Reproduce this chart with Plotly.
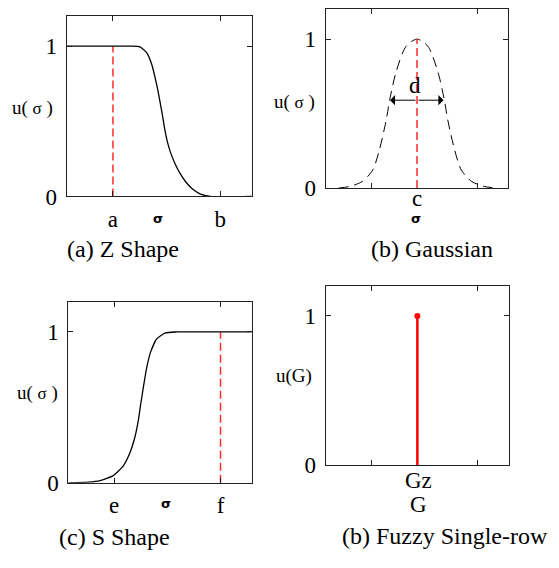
import plotly.graph_objects as go

W, H = 559, 568
OFF = 8  # page body margin in the browser

# ---------------- data ----------------
# (a) Z shape
z_x = [0.0, 0.25, 0.342, 0.396, 0.432, 0.459, 0.483, 0.501, 0.517, 0.531, 0.545, 0.562, 0.585, 0.612, 0.645, 0.68, 0.72, 0.775, 1.0]
z_y = [1.0, 1.0, 1.0, 0.996, 0.957, 0.881, 0.762, 0.653, 0.544, 0.44, 0.36, 0.29, 0.22, 0.155, 0.095, 0.05, 0.018, 0.0, 0.0]
z_ticks = [0.25, 0.83]
z_ticklabels = ["a", "b"]
z_marker_x = 0.25

# (b) Gaussian
g_x = [0.07, 0.13, 0.20, 0.257, 0.293, 0.33, 0.352, 0.385, 0.44, 0.5,
       0.56, 0.615, 0.648, 0.67, 0.707, 0.743, 0.80, 0.87, 0.93]
g_y = [0.0, 0.011, 0.044, 0.121, 0.252, 0.449, 0.602, 0.777, 0.951, 1.0,
       0.951, 0.777, 0.602, 0.449, 0.252, 0.121, 0.044, 0.011, 0.0]
g_ticks = [0.25, 0.83]
g_center = 0.5
g_center_label = "c"
g_width_y = 0.59
g_width_left = 0.352
g_width_right = 0.645

# (c) S shape
s_x = [0.0, 0.109, 0.173, 0.245, 0.300, 0.336, 0.364, 0.382, 0.395, 0.409, 0.427, 0.449, 0.482, 0.527, 0.591, 1.0]
s_y = [0.0, 0.005, 0.015, 0.048, 0.113, 0.199, 0.307, 0.415, 0.523, 0.631, 0.760, 0.868, 0.954, 0.993, 1.0, 1.0]
s_ticks = [0.25, 0.83]
s_ticklabels = ["e", "f"]
s_marker_x = 0.83

# (d) fuzzy singleton
f_x = [0.5, 0.5]
f_y = [0.0, 1.0]
f_ticks = [0.25, 0.83]
f_center_label = "Gz"

y_ticks = [0, 1]
y_ticklabels = ["0", "1"]

captions = ["(a) Z Shape", "(b) Gaussian", "(c) S Shape", "(b) Fuzzy Single-row"]

SERIF = "Times New Roman, Liberation Serif, DejaVu Serif, serif"
FW, FH = W - OFF, H - OFF

def px_x(p):
    return (p - OFF) / FW

def px_y(p):
    return 1 - (p - OFF) / FH

# panel boxes in page pixels: (left, right, top, bottom)
boxes = [
    (66.7, 251.7, 15.3, 200.3),
    (325.7, 508.3, 8.3, 191.7),
    (68.3, 251.7, 308.3, 494.0),
    (325.7, 509.0, 292.3, 475.7),
]

fig = go.Figure()

def axis_common():
    return dict(range=[0, 1], showgrid=False, zeroline=False, showline=True,
                linecolor="#222", linewidth=1, mirror="all", ticks="inside",
                ticklen=5, tickcolor="#222", tickwidth=1,
                tickfont=dict(family=SERIF, size=23, color="black"))

layout = dict(width=FW, height=FH, margin=dict(l=0, r=0, t=0, b=0),
              paper_bgcolor="white", plot_bgcolor="white", showlegend=False)

xtick_sets = [(z_ticks, z_ticklabels), (g_ticks, ["", ""]), (s_ticks, s_ticklabels), (f_ticks, ["", ""])]
for i, (l, r, t, b) in enumerate(boxes):
    n = "" if i == 0 else str(i + 1)
    xa = axis_common()
    xa.update(domain=[px_x(l), px_x(r)], anchor="y" + n,
              tickvals=xtick_sets[i][0], ticktext=xtick_sets[i][1], ticklabelstandoff=2)
    ya = axis_common()
    ya.update(domain=[px_y(b), px_y(t)], anchor="x" + n, range=[0, 1.2],
              tickvals=y_ticks, ticktext=y_ticklabels, ticklabelstandoff=4)
    layout["xaxis" + n] = xa
    layout["yaxis" + n] = ya

fig.update_layout(**layout)

RED_DASH = dict(color="#ff2a2a", width=1.5, dash="8px,4px")
# (a)
fig.add_trace(go.Scatter(x=[z_marker_x, z_marker_x], y=[0, 1], mode="lines",
                         line=RED_DASH, xaxis="x", yaxis="y"))
fig.add_trace(go.Scatter(x=z_x, y=z_y, mode="lines",
                         line=dict(color="black", width=1.3, shape="spline", smoothing=0.5), xaxis="x", yaxis="y"))
# (b)
fig.add_trace(go.Scatter(x=g_x, y=g_y, mode="lines",
                         line=dict(color="black", width=1, dash="10px,6px", shape="spline", smoothing=0.8),
                         xaxis="x2", yaxis="y2"))
fig.add_trace(go.Scatter(x=[g_center, g_center], y=[0, 1], mode="lines",
                         line=RED_DASH, xaxis="x2", yaxis="y2"))
# (c)
fig.add_trace(go.Scatter(x=[s_marker_x, s_marker_x], y=[0, 1], mode="lines",
                         line=RED_DASH, xaxis="x3", yaxis="y3"))
fig.add_trace(go.Scatter(x=s_x, y=s_y, mode="lines",
                         line=dict(color="black", width=1.3, shape="spline", smoothing=0.5), xaxis="x3", yaxis="y3"))
# (d)
fig.add_trace(go.Scatter(x=f_x, y=f_y, mode="lines",
                         line=dict(color="#ff0000", width=2.5), xaxis="x4", yaxis="y4"))
fig.add_trace(go.Scatter(x=[f_x[1]], y=[f_y[1]], mode="markers",
                         marker=dict(color="#ff0000", size=6), xaxis="x4", yaxis="y4"))

ann = []

def text(x, y, s, size=22, family=SERIF, bold=False, xanchor="center"):
    if bold:
        s = "<b>" + s + "</b>"
    ann.append(dict(x=px_x(x), y=px_y(y), xref="paper", yref="paper", text=s, showarrow=False,
                    xanchor=xanchor, yanchor="middle", font=dict(family=family, size=size, color="black")))

SIG = "u(&nbsp;<span style='font-size:17px'>σ</span>&nbsp;)"
# y-axis labels
text(32, 110, SIG, size=19)
text(294, 103, SIG, size=19)
text(37, 402, SIG, size=19)
text(294, 384, "u(G)", size=19)

# x-axis titles
text(158, 223, "σ", size=13, family="DejaVu Sans", bold=True)
text(416, 223, "σ", size=13, family="DejaVu Sans", bold=True)
text(166, 515, "σ", size=13, family="DejaVu Sans", bold=True)
text(418, 516, "G", size=23)

# centre tick labels
text(416.5, 202, g_center_label, size=23)
text(418, 492, f_center_label, size=23)

# width marker "d"
text(415, 86, "d", size=23)
for tip in (g_width_left, g_width_right):
    ann.append(dict(x=tip, y=g_width_y, ax=g_center, ay=g_width_y, xref="x2", yref="y2",
                    axref="x2", ayref="y2", showarrow=True, arrowhead=1, arrowsize=1.7,
                    arrowwidth=1, arrowcolor="black", text=""))

# captions
text(123, 254, captions[0], size=24)
text(432, 254, captions[1], size=24)
text(114, 550, captions[2], size=24)
text(445, 549, captions[3], size=24)

fig.update_layout(annotations=ann)
fig.write_html("out.html")
